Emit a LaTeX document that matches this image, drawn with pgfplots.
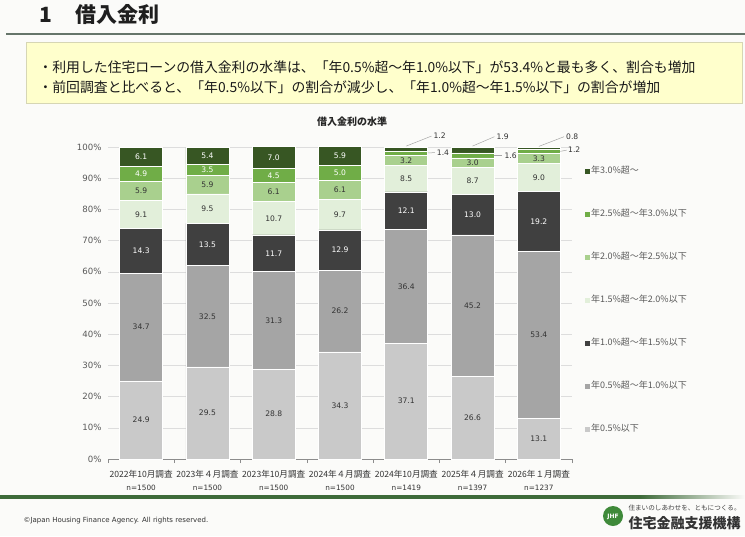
\documentclass[border=0pt]{standalone}
\usepackage{fontspec}
\setmainfont{DejaVu Sans}
\newfontfamily\jp{Noto Sans CJK JP}
\usepackage{pgfplots}
\usepackage{pgfplotstable}
\pgfplotsset{compat=1.18}

\definecolor{bgcol}{HTML}{FBFBF9}
\definecolor{rate0}{HTML}{C9C9C9}
\definecolor{rate1}{HTML}{A5A5A5}
\definecolor{rate2}{HTML}{404040}
\definecolor{rate3}{HTML}{E2EFDA}
\definecolor{rate4}{HTML}{A9D08E}
\definecolor{rate5}{HTML}{70AD47}
\definecolor{rate6}{HTML}{375623}
\definecolor{txtgray}{HTML}{595959}
\definecolor{darktxt}{HTML}{333333}
\definecolor{gridgray}{HTML}{DDDDDD}
\definecolor{axisgray}{HTML}{8C8C8C}
\definecolor{leadergray}{HTML}{A6A6A6}
\definecolor{boxfill}{HTML}{FFFFCC}
\definecolor{boxline}{HTML}{D6D6B4}
\definecolor{rulegray}{HTML}{66756A}
\definecolor{jhfgreen}{HTML}{3E6B3A}
\definecolor{logogreen}{HTML}{3F8A3A}

% share (%) of borrowers in each interest-rate band, per survey
\pgfplotstableread{
x  r0   r1   r2   r3   r4  r5  r6
0  24.9 34.7 14.3 9.1  5.9 4.9 6.1
1  29.5 32.5 13.5 9.5  5.9 3.5 5.4
2  28.8 31.3 11.7 10.7 6.1 4.5 7.0
3  34.3 26.2 12.9 9.7  6.1 5.0 5.9
4  37.1 36.4 12.1 8.5  3.2 1.4 1.2
5  26.6 45.2 13.0 8.7  3.0 1.6 1.9
6  13.1 53.4 19.2 9.0  3.3 1.2 0.8
}\ratetable

\newcommand\cat[2]{{\jp #1}\\[3pt]{\rmfamily\fontsize{7.3}{9}\selectfont n=#2}}

\pgfplotsset{
  chartgeom/.style={at={(108pt,-459pt)}, anchor=south west, scale only axis,
    width=464pt, height=312pt, xmin=-0.5, xmax=6.5, ymin=0, ymax=100},
  sq legend/.style={legend image code/.code={\fill[##1,draw=none] (0pt,-2.5pt) rectangle (5pt,2.5pt);}},
  seg/.style={fill=#1, draw=white, line width=0.6pt, sq legend},
  lab/.style={draw=none, nodes near coords style={text=#1}},
}

\begin{document}
\begin{tikzpicture}[x=1pt,y=1pt]
\useasboundingbox (0,0) rectangle (745,-536);
\fill[bgcol] (0,0) rectangle (745,-536);

% heading
\node[anchor=west, font=\jp\bfseries\fontsize{21}{25}\selectfont, text=black!88] at (36,-15) {1\hspace{23pt}借入金利};
\draw[rulegray, line width=2pt] (6,-33.5) -- (745,-33.5);

% summary box
\draw[boxline, fill=boxfill, line width=0.6pt] (26,-42) rectangle (742,-103);
\node[anchor=west, font=\jp\fontsize{13.85}{16}\selectfont, text=black!90] at (35,-67.5) {・利用した住宅ローンの借入金利の水準は、「年0.5\%超～年1.0\%以下」が53.4\%と最も多く、割合も増加};
\node[anchor=west, font=\jp\fontsize{13.85}{16}\selectfont, text=black!90] at (35,-87.5) {・前回調査と比べると、「年0.5\%以下」の割合が減少し、「年1.0\%超～年1.5\%以下」の割合が増加};

% chart title
\node[font=\jp\bfseries\fontsize{10}{12}\selectfont, text=black!85] at (352,-122) {借入金利の水準};

\begin{axis}[
  chartgeom,
  ybar stacked, bar width=43pt,
  axis lines*=left, axis line style={-},
  y axis line style={draw=none}, x axis line style={draw=axisgray, line width=0.6pt},
  ymajorgrids, grid style={gridgray, line width=0.5pt},
  ytick={0,10,...,100},
  /pgf/number format/assume math mode=true,
  yticklabel={\pgfmathprintnumber{\tick}\%},
  yticklabel style={font=\fontsize{8.6}{10}\selectfont, text=txtgray, xshift=-3pt},
  xtick={0,...,6},
  xticklabels={\cat{2022年10月調査}{1500},\cat{2023年４月調査}{1500},\cat{2023年10月調査}{1500},\cat{2024年４月調査}{1500},\cat{2024年10月調査}{1419},\cat{2025年４月調査}{1397},\cat{2026年１月調査}{1237}},
  xticklabel style={align=center, font=\jp\fontsize{8.6}{10}\selectfont, text=darktxt, yshift=-7.5pt},
  minor xtick={-0.5,0.5,...,6.5},
  tick align=outside, major tick length=0pt, minor tick length=4pt,
  minor tick style={axisgray, line width=0.6pt},
  clip=false,
  reverse legend,
  legend cell align=left,
  legend style={at={(axis description cs:1.028,0.94)}, anchor=north west,
    draw=none, fill=none, inner sep=0pt, row sep=32.5pt, column sep=0pt,
    font=\jp\fontsize{9}{10}\selectfont, text=txtgray,
    nodes={inner sep=1pt, text height=7pt, text depth=1.5pt}},
]
\addplot[seg=rate0] table[x=x, y=r0] {\ratetable};
\addplot[seg=rate1] table[x=x, y=r1] {\ratetable};
\addplot[seg=rate2] table[x=x, y=r2] {\ratetable};
\addplot[seg=rate3] table[x=x, y=r3] {\ratetable};
\addplot[seg=rate4] table[x=x, y=r4] {\ratetable};
\addplot[seg=rate5] table[x=x, y=r5] {\ratetable};
\addplot[seg=rate6] table[x=x, y=r6] {\ratetable};
\legend{年0.5\%以下, 年0.5\%超～年1.0\%以下, 年1.0\%超～年1.5\%以下, 年1.5\%超～年2.0\%以下, 年2.0\%超～年2.5\%以下, 年2.5\%超～年3.0\%以下, 年3.0\%超～}
\end{axis}

% value labels, centred in each segment
\begin{axis}[
  chartgeom, hide axis, clip=false,
  nodes near coords, point meta=explicit symbolic,
  every node near coord/.append style={anchor=center, inner sep=0pt, font=\fontsize{7.6}{9}\selectfont},
]
\addplot[lab=darktxt] table[x=x, y expr=\thisrow{r0}/2, meta=r0] {\ratetable};
\addplot[lab=darktxt] table[x=x, y expr=\thisrow{r0}+\thisrow{r1}/2, meta=r1] {\ratetable};
\addplot[lab=white] table[x=x, y expr=\thisrow{r0}+\thisrow{r1}+\thisrow{r2}/2, meta=r2] {\ratetable};
\addplot[lab=darktxt] table[x=x, y expr=\thisrow{r0}+\thisrow{r1}+\thisrow{r2}+\thisrow{r3}/2, meta=r3] {\ratetable};
\addplot[lab=darktxt] table[x=x, y expr=\thisrow{r0}+\thisrow{r1}+\thisrow{r2}+\thisrow{r3}+\thisrow{r4}/2, meta=r4] {\ratetable};
\addplot[lab=white, restrict x to domain=0:3] table[x=x, y expr=\thisrow{r0}+\thisrow{r1}+\thisrow{r2}+\thisrow{r3}+\thisrow{r4}+\thisrow{r5}/2, meta=r5] {\ratetable};
\addplot[lab=white, restrict x to domain=0:3] table[x=x, y expr=\thisrow{r0}+\thisrow{r1}+\thisrow{r2}+\thisrow{r3}+\thisrow{r4}+\thisrow{r5}+\thisrow{r6}/2, meta=r6] {\ratetable};
% thin top segments labelled outside the bars, with leader lines
\draw[leadergray, line width=0.5pt] (4,100.3) -- (4.38,103.5);
\draw[leadergray, line width=0.5pt] (4.324,98.1) -- (4.43,98.2);
\draw[leadergray, line width=0.5pt] (5,100.3) -- (5.33,103.3);
\draw[leadergray, line width=0.5pt] (5.324,97.3) -- (5.45,97.3);
\draw[leadergray, line width=0.5pt] (6,100.2) -- (6.38,103.3);
\draw[leadergray, line width=0.5pt] (6.324,98.6) -- (6.42,99.0);
\addplot[draw=none, every node near coord/.append style={anchor=west, text=darktxt}] coordinates {
  (4.41,103.5) [1.2] (4.46,98.2) [1.4]
  (5.36,103.3) [1.9] (5.48,97.3) [1.6]
  (6.41,103.3) [0.8] (6.44,99.0) [1.2]
};
\end{axis}

% footer
\fill[jhfgreen] (0,-495) rectangle (640,-498.5);
\shade[left color=jhfgreen, right color=bgcol] (640,-495) rectangle (745,-498.5);
\node[anchor=west, font=\fontsize{7}{8}\selectfont, text=black!80] at (20,-521) {©Japan Housing Finance Agency. All rights reserved.};
\fill[logogreen] (613,-516) circle (10);
\node[text=white, font=\bfseries\fontsize{6}{7}\selectfont] at (613,-517) {JHF};
\node[anchor=west, font=\jp\fontsize{6.6}{8}\selectfont, text=black!75] at (625,-508) {住まいのしあわせを、ともにつくる。};
\node[anchor=west, font=\jp\bfseries\fontsize{14}{16}\selectfont, text=black!80] at (625,-523.5) {住宅金融支援機構};
\end{tikzpicture}
\end{document}
